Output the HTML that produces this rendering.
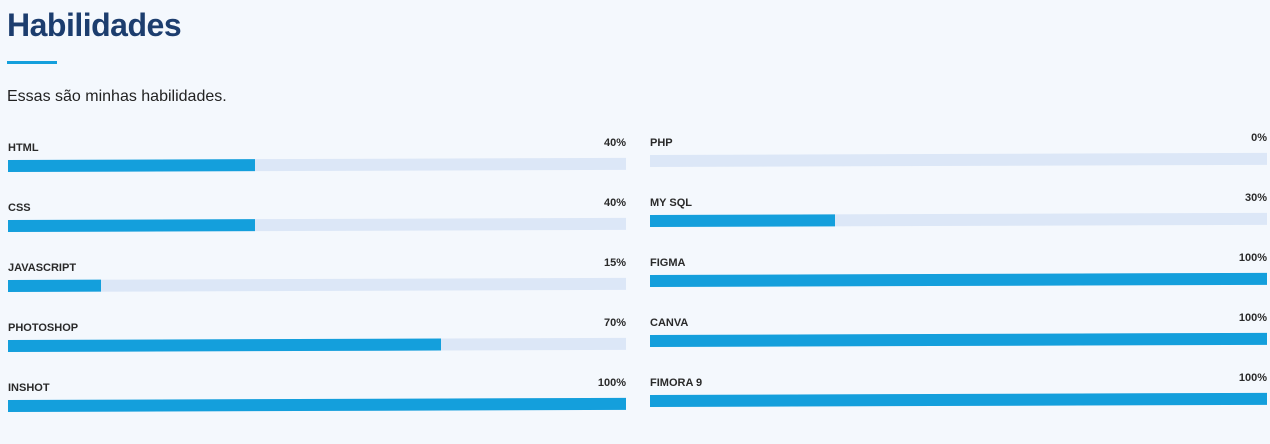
<!DOCTYPE html>
<html><head><meta charset="utf-8"><style>
body{margin:0;width:1270px;height:444px;background:#f4f8fd;font-family:"Liberation Sans",sans-serif;position:relative;overflow:hidden}
h1{position:absolute;left:7px;top:7px;margin:0;font-size:32px;font-weight:bold;color:#1c3d6e;letter-spacing:-0.5px}
.ul{position:absolute;left:7px;top:61px;width:50px;height:3px;background:#149fdc}
.desc{position:absolute;left:7px;top:88px;font-size:16px;color:#222}
.lab{position:absolute;font-size:11px;font-weight:bold;color:#2a2a2a}
.pct{position:absolute;font-size:11px;font-weight:bold;color:#2a2a2a;text-align:right;width:60px}
.track{position:absolute;height:12px;background:#dce7f7;transform:skewY(-0.2deg);transform-origin:left center}
.fill{position:absolute;left:0;top:0;height:100%;background:#149fdc}
</style></head><body>
<h1>Habilidades</h1>
<div class="ul"></div>
<div class="desc">Essas são minhas habilidades.</div>
<script>
const leftSkills=["HTML","CSS","JAVASCRIPT","PHOTOSHOP","INSHOT"];
const leftValues=[40,40,15,70,100];
const rightSkills=["PHP","MY SQL","FIGMA","CANVA","FIMORA 9"];
const rightValues=[0,30,100,100,100];
function draw(skills,vals,x0,y0,w){
  skills.forEach((s,i)=>{
    const y=y0+i*60;
    const l=document.createElement('div');l.className='lab';l.textContent=s;
    l.style.left=x0+'px';l.style.top=(y-5)+'px';
    
    
    document.body.appendChild(l);
    const p=document.createElement('div');p.className='pct';p.textContent=vals[i]+'%';
    p.style.left=(x0+w-60)+'px';p.style.top=(y-10)+'px';
    
    
    document.body.appendChild(p);
    const t=document.createElement('div');t.className='track';
    t.style.left=x0+'px';t.style.top=(y+13)+'px';t.style.width=w+'px';
    
    
    const f=document.createElement('div');f.className='fill';f.style.width=(vals[i]/100*w)+'px';
    
    
    t.appendChild(f);document.body.appendChild(t);
  });
}
draw(leftSkills,leftValues,8,147,618);
draw(rightSkills,rightValues,650,142,617);
</script>
</body></html>
